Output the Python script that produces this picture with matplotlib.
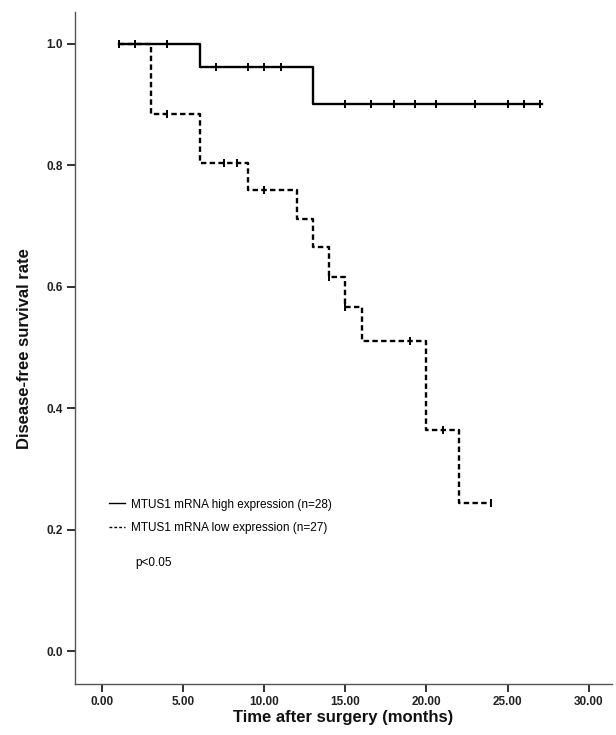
import numpy as np
import matplotlib
matplotlib.use("Agg")
import matplotlib.pyplot as plt
from matplotlib.lines import Line2D

plt.rcParams['font.family'] = ['Liberation Sans', 'DejaVu Sans']

# Kaplan-Meier curves (months, survival)
high_time = [1, 6, 13, 27.1]
high_surv = [1.0, 0.962, 0.901, 0.901]
high_censor = [1, 2, 4, 7, 9, 10, 11, 15, 16.6, 18, 19.3, 20.6, 23, 25, 26, 27]

low_time = [1, 3, 6, 9, 12, 13, 14, 15, 16, 20, 22, 24]
low_surv = [1.0, 0.885, 0.804, 0.760, 0.712, 0.665, 0.616, 0.566, 0.510, 0.364, 0.243, 0.243]
low_censor = [4, 7.5, 8.3, 10, 14, 15, 19, 21, 24]

labels = ["MTUS1 mRNA high expression (n=28)", "MTUS1 mRNA low expression (n=27)"]
xticks = [0, 5, 10, 15, 20, 25, 30]
yticks = [0.0, 0.2, 0.4, 0.6, 0.8, 1.0]


def surv_at(t, times, surv):
    idx = np.searchsorted(times, t, side='right') - 1
    return np.array(surv)[np.clip(idx, 0, len(surv) - 1)]


fig = plt.figure(figsize=(6.16, 7.35), dpi=100)
ax = fig.add_axes([0.1218, 0.0694, 0.872, 0.914])

ax.plot(high_time, high_surv, color='black', lw=1.7, drawstyle='steps-post')
ax.plot(low_time, low_surv, color='black', lw=1.7, drawstyle='steps-post',
        linestyle=(0, (2.3, 1.4)))

ax.plot(high_censor, surv_at(high_censor, high_time, high_surv), ls='none',
        marker='|', ms=6, mew=1.4, color='black')
ax.plot(low_censor, surv_at(low_censor, low_time, low_surv), ls='none',
        marker='|', ms=6, mew=1.4, color='black')

ax.set_xlim(-1.69, 31.46)
ax.set_ylim(-0.0543, 1.052)
ax.set_xticks(xticks)
ax.set_xticklabels(["%.2f" % v for v in xticks])
ax.set_yticks(yticks)
ax.set_yticklabels(["%.1f" % v for v in yticks])
for lab in ax.get_xticklabels() + ax.get_yticklabels():
    lab.set_fontsize(8.5)
    lab.set_fontweight('bold')
    lab.set_color('#222222')
ax.tick_params(direction='out', length=6, width=1.3, color='#222222', pad=3)

for side in ['top', 'right']:
    ax.spines[side].set_visible(False)
for side in ['left', 'bottom']:
    ax.spines[side].set_color('#555555')
    ax.spines[side].set_linewidth(1.0)

ax.set_xlabel("Time after surgery (months)", fontsize=12, fontweight='bold',
              labelpad=1, color='#111111')
ax.set_ylabel("Disease-free survival rate", fontsize=12, fontweight='bold',
              labelpad=10, color='#111111')

handles = [Line2D([], [], color='black', lw=1.0),
           Line2D([], [], color='black', lw=1.0, linestyle=(0, (2, 1.5)))]
ax.legend(handles, labels, loc='upper left', bbox_to_anchor=(0.055, 0.283),
          frameon=False, fontsize=8.5, handlelength=1.3, handletextpad=0.5,
          labelspacing=0.95, borderaxespad=0)

fig.text(135 / 616, 1 - 563 / 735, "p<0.05", fontsize=8.5, va='center', ha='left')

fig.savefig("out.png", dpi=100)
